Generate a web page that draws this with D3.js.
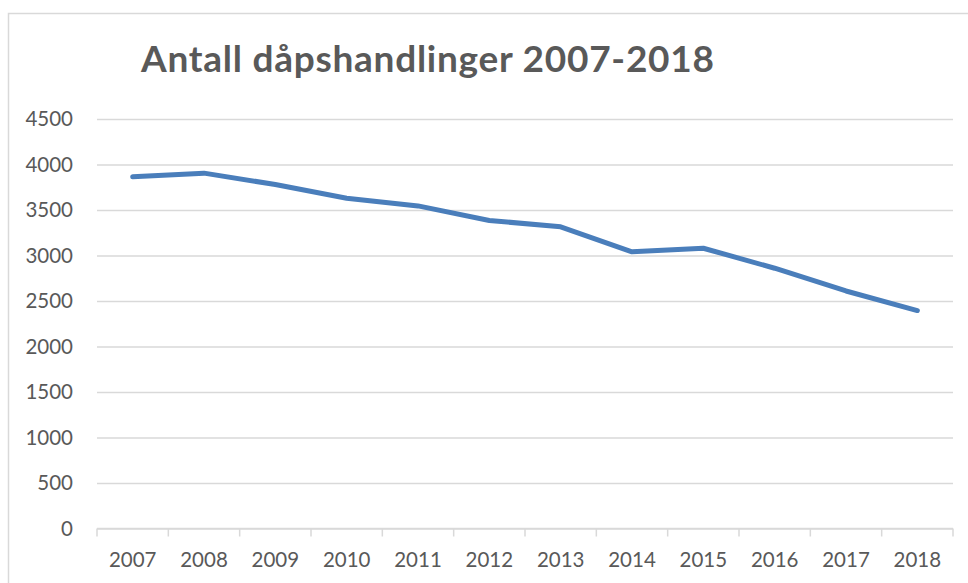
<!DOCTYPE html>
<html>
<head>
<meta charset="utf-8">
<script src="https://cdn.jsdelivr.net/npm/d3@7"></script>
<style>
  body { margin: 0; background: #fff; }
  svg { display: block; }
</style>
</head>
<body>
<div id="chart"></div>
<script>
// data
var years = ['2007', '2008', '2009', '2010', '2011', '2012', '2013', '2014', '2015', '2016', '2017', '2018'];
var baptisms = [3865, 3905, 3780, 3630, 3545, 3385, 3315, 3040, 3080, 2860, 2610, 2395];
var yTicks = [0, 500, 1000, 1500, 2000, 2500, 3000, 3500, 4000, 4500];
var title = 'Antall dåpshandlinger 2007-2018';

// setup SVG
var width = 968, height = 583;
var svg = d3.select('#chart').append('svg')
    .attr('width', width).attr('height', height);

var plot = { left: 97, right: 953, top: 119, bottom: 528.5 };
var textColor = '#595959';
var gridColor = '#d9d9d9';

// chart area border
svg.append('rect')
    .attr('x', 8.5).attr('y', 13.5)
    .attr('width', 975).attr('height', 600)
    .attr('fill', 'none')
    .attr('stroke', gridColor).attr('stroke-width', 1.5);

var x = d3.scaleBand().domain(years).range([plot.left, plot.right]);
var y = d3.scaleLinear().domain([0, 4500]).range([plot.bottom, plot.top]);

// horizontal gridlines + y labels
var yAxis = svg.append('g')
    .attr('transform', 'translate(' + plot.left + ',0)')
    .call(d3.axisLeft(y).tickValues(yTicks).tickFormat(d3.format('d'))
        .tickSize(-(plot.right - plot.left)).tickPadding(24));
yAxis.select('.domain').remove();
yAxis.selectAll('.tick line')
    .attr('stroke', gridColor).attr('stroke-width', 1.5);
yAxis.selectAll('.tick text')
    .attr('fill', textColor)
    .attr('font-family', 'Lato')
    .attr('font-size', '20.5px');

// x axis with ticks between categories
var xAxis = svg.append('g')
    .attr('transform', 'translate(0,' + plot.bottom + ')');
xAxis.append('line')
    .attr('x1', plot.left).attr('x2', plot.right)
    .attr('stroke', gridColor).attr('stroke-width', 1.5);
var bounds = years.map(function(d) { return x(d); }).concat([plot.right]);
xAxis.selectAll('line.sep')
    .data(bounds).enter().append('line')
    .attr('class', 'sep')
    .attr('x1', function(d) { return d; }).attr('x2', function(d) { return d; })
    .attr('y1', 0).attr('y2', 8)
    .attr('stroke', gridColor).attr('stroke-width', 1.5);
xAxis.selectAll('text')
    .data(years).enter().append('text')
    .attr('x', function(d) { return x(d) + x.bandwidth() / 2; })
    .attr('y', 38.5)
    .attr('text-anchor', 'middle')
    .attr('fill', textColor)
    .attr('font-family', 'Lato')
    .attr('font-size', '20.5px')
    .text(function(d) { return d; });

// line
var line = d3.line()
    .x(function(d, i) { return x(years[i]) + x.bandwidth() / 2; })
    .y(function(d) { return y(d); });
svg.append('path')
    .datum(baptisms)
    .attr('d', line)
    .attr('fill', 'none')
    .attr('stroke', '#4a7ebb')
    .attr('stroke-width', 5)
    .attr('stroke-linecap', 'round')
    .attr('stroke-linejoin', 'round');

// title
svg.append('text')
    .attr('x', 141).attr('y', 72)
    .attr('fill', textColor)
    .attr('font-family', 'Lato')
    .attr('font-weight', 'bold')
    .attr('font-size', '37px')
    .attr('textLength', 573)
    .text(title);
</script>
</body>
</html>
